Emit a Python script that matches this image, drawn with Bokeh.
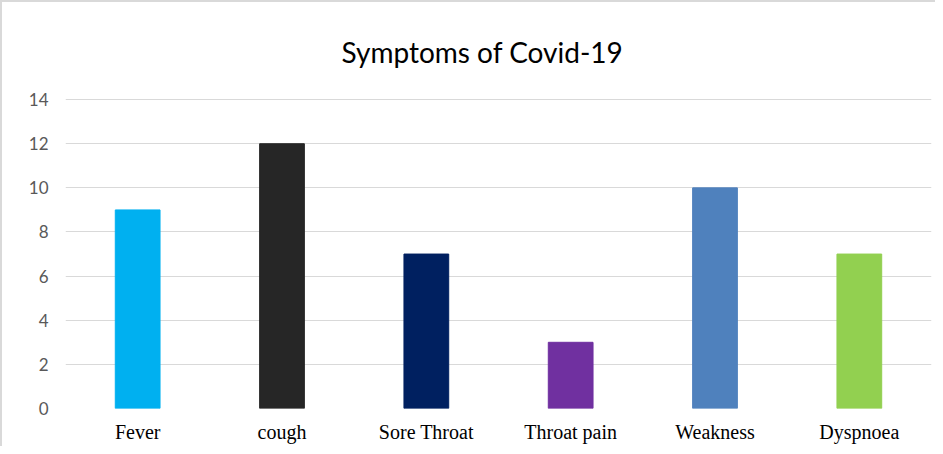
from bokeh.plotting import figure
from bokeh.models import ColumnDataSource, FixedTicker
from bokeh.embed import file_html
from bokeh.resources import INLINE

categories = ["Fever", "cough", "Sore Throat", "Throat pain", "Weakness", "Dyspnoea"]
counts = [9, 12, 7, 3, 10, 7]
colors = ["#00B0F0", "#262626", "#002060", "#7030A0", "#4F81BD", "#92D050"]
y_ticks = [0, 2, 4, 6, 8, 10, 12, 14]

source = ColumnDataSource(data=dict(cat=categories, val=counts, color=colors))

p = figure(x_range=categories, y_range=(0, 14.05), width=935, height=446,
           output_backend="svg", toolbar_location=None,
           title="Symptoms of Covid-19",
           min_border_left=63, min_border_right=6, min_border_top=95, min_border_bottom=40)

p.vbar(x="cat", top="val", width=0.31, color="color", source=source)

p.outline_line_color = None
p.background_fill_color = "white"
p.border_fill_color = "white"
p.styles = {"border-left": "2px solid #d9d9d9", "border-top": "2px solid #d9d9d9"}

p.title.text_font = "Lato"
p.title.text_font_size = "28px"
p.title.text_font_style = "normal"
p.title.text_color = "#000000"
p.title.align = "left"
p.title.offset = 276
p.title.standoff = 60

p.xgrid.grid_line_color = None
p.ygrid.grid_line_color = "#d9d9d9"
p.ygrid.grid_line_width = 1

p.yaxis.ticker = FixedTicker(ticks=y_ticks)
p.yaxis.axis_line_color = None
p.yaxis.major_tick_line_color = None
p.yaxis.minor_tick_line_color = None
p.yaxis.major_tick_out = 0
p.yaxis.major_tick_in = 0
p.yaxis.major_label_text_font = "Lato"
p.yaxis.major_label_text_font_size = "17px"
p.yaxis.major_label_text_color = "#595959"
p.yaxis.major_label_standoff = 17

p.xaxis.axis_line_color = None
p.xaxis.major_tick_line_color = None
p.xaxis.minor_tick_line_color = None
p.xaxis.major_tick_out = 0
p.xaxis.major_tick_in = 0
p.xaxis.major_label_text_font = "Liberation Serif"
p.xaxis.major_label_text_font_size = "20px"
p.xaxis.major_label_text_color = "#000000"
p.xaxis.major_label_standoff = 12

open("out.html", "w").write(file_html(p, INLINE))
